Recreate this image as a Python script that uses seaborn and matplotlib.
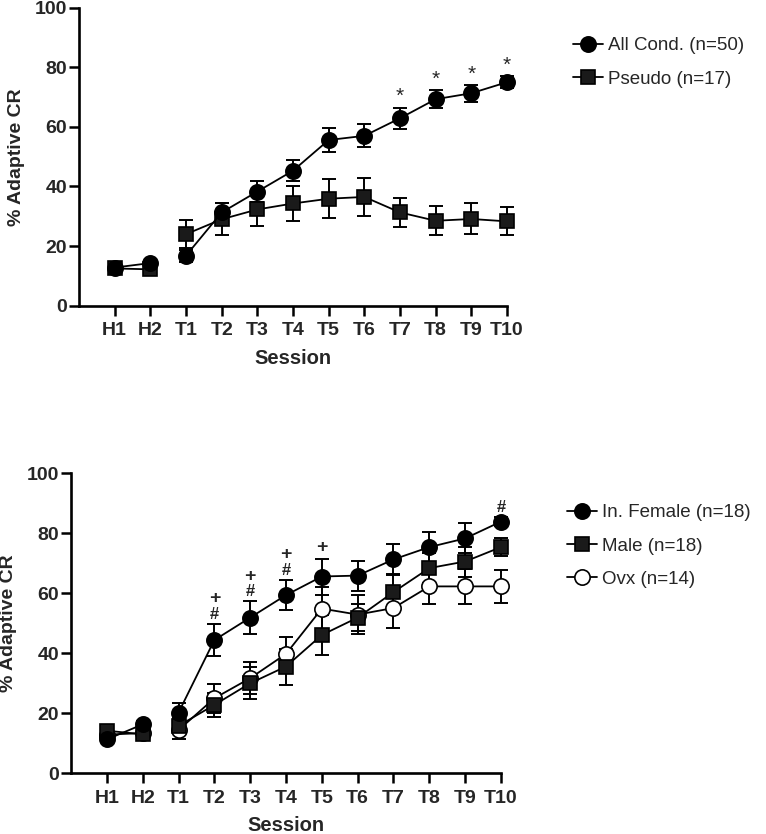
import numpy as np
import pandas as pd
import matplotlib
matplotlib.use("Agg")
import matplotlib.pyplot as plt
from matplotlib.lines import Line2D
import seaborn as sns

# sessions (x axis)
sessions = ['H1', 'H2', 'T1', 'T2', 'T3', 'T4', 'T5', 'T6', 'T7', 'T8', 'T9', 'T10']
phase = ['H', 'H', 'T', 'T', 'T', 'T', 'T', 'T', 'T', 'T', 'T', 'T']

# top panel: mean and SEM
all_cond = [12.8, 14.3, 16.8, 31.3, 38.3, 45.3, 55.6, 57.0, 62.9, 69.3, 71.3, 75.0]
all_sem = [0.8, 0.8, 2.0, 3.0, 3.5, 3.5, 4.1, 3.9, 3.6, 3.0, 2.8, 2.0]
pseudo = [12.5, 12.2, 24.0, 29.0, 32.3, 34.3, 35.9, 36.5, 31.3, 28.5, 29.1, 28.3]
pseudo_sem = [0.5, 0.5, 4.8, 5.3, 5.4, 5.8, 6.5, 6.3, 5.0, 4.8, 5.2, 4.7]

# bottom panel: mean and SEM
female = [11.2, 16.2, 20.1, 44.3, 51.8, 59.3, 65.5, 65.8, 71.2, 75.3, 78.2, 83.8]
female_sem = [1.0, 1.0, 3.3, 5.4, 5.4, 5.0, 6.0, 5.0, 5.2, 5.0, 5.0, 1.5]
male = [14.1, 12.9, 15.7, 22.7, 29.9, 35.5, 46.0, 51.8, 60.3, 68.3, 70.5, 75.3]
male_sem = [1.0, 0.8, 2.5, 3.9, 5.3, 6.0, 6.6, 4.5, 6.0, 5.0, 5.0, 3.0]
ovx = [12.8, 13.3, 14.3, 24.9, 31.6, 39.7, 54.8, 52.8, 55.0, 62.2, 62.2, 62.2]
ovx_sem = [1.0, 1.0, 3.0, 4.8, 5.3, 5.5, 7.2, 6.5, 6.5, 5.7, 5.7, 5.5]

# significance marks
stars_top = ['T7', 'T8', 'T9', 'T10']
hash_bot = ['T2', 'T3', 'T4', 'T10']
plus_bot = ['T2', 'T3', 'T4', 'T5']

sns.set_style('ticks')
plt.rcParams['font.family'] = ['Liberation Sans', 'DejaVu Sans']

fig = plt.figure(figsize=(7.66, 8.34), dpi=100)
ax1 = fig.add_axes([79 / 766, 1 - 305.7 / 834, (507 - 79) / 766, 298 / 834])
ax2 = fig.add_axes([71 / 766, 1 - 773 / 834, (501 - 71) / 766, 300 / 834])

pos = np.arange(len(sessions))


def draw(ax, means, sems, marker, face, ms):
    df = pd.DataFrame({'pos': pos, 'val': means, 'phase': phase})
    sns.lineplot(data=df, x='pos', y='val', units='phase', estimator=None,
                 color='black', lw=1.3, marker=marker, markersize=ms,
                 markerfacecolor=face, markeredgecolor='black',
                 markeredgewidth=1.2, clip_on=False, legend=False, ax=ax)
    ax.errorbar(pos, means, yerr=sems, fmt='none', ecolor='black',
                elinewidth=1.4, capsize=5, capthick=1.4, zorder=1.5,
                clip_on=False)


draw(ax1, pseudo, pseudo_sem, 's', '#1a1a1a', 9.5)
draw(ax1, all_cond, all_sem, 'o', 'black', 11)

draw(ax2, ovx, ovx_sem, 'o', 'white', 11)
draw(ax2, male, male_sem, 's', '#1a1a1a', 9.5)
draw(ax2, female, female_sem, 'o', 'black', 11)

for s in stars_top:
    i = sessions.index(s)
    ax1.annotate('*', (i, all_cond[i] + all_sem[i]), xytext=(0, 1),
                 textcoords='offset points', ha='center', va='bottom',
                 fontsize=15)
for s in hash_bot:
    i = sessions.index(s)
    ax2.annotate('#', (i, female[i] + female_sem[i]), xytext=(0, 1.5),
                 textcoords='offset points', ha='center', va='bottom',
                 fontsize=12, fontweight='bold')
for s in plus_bot:
    i = sessions.index(s)
    off = 12 if s in hash_bot else 2
    ax2.annotate('+', (i, female[i] + female_sem[i]), xytext=(0, off),
                 textcoords='offset points', ha='center', va='bottom',
                 fontsize=14, fontweight='bold')

for ax in (ax1, ax2):
    ax.set_xlim(-1, 11)
    ax.set_ylim(0, 100)
    ax.set_xticks(pos)
    ax.set_xticklabels(sessions)
    ax.set_yticks([0, 20, 40, 60, 80, 100])
    ax.set_xlabel('Session', fontsize=14.5, fontweight='bold', labelpad=7)
    ax.set_ylabel('% Adaptive CR', fontsize=14, fontweight='bold', labelpad=7)
    for lab in ax.get_xticklabels() + ax.get_yticklabels():
        lab.set_fontweight('bold')
        lab.set_fontsize(14)
    ax.tick_params(axis='both', length=7, width=1.8, color='black')
    ax.tick_params(axis='x', pad=5)
    ax.tick_params(axis='y', pad=1.5)
    sns.despine(ax=ax)
    for sp in ('left', 'bottom'):
        ax.spines[sp].set_linewidth(1.9)
        ax.spines[sp].set_color('black')


def handle(marker, face, ms):
    return Line2D([], [], color='black', lw=1.3, marker=marker, markersize=ms,
                  markerfacecolor=face, markeredgecolor='black',
                  markeredgewidth=1.2)


leg_kw = dict(loc='upper left', frameon=False, fontsize=13.5, handlelength=1.6,
              handletextpad=0.27, labelspacing=0.87, borderpad=0,
              borderaxespad=0)
fig.legend([handle('o', 'black', 11), handle('s', '#1a1a1a', 9.5)],
           ['All Cond. (n=50)', 'Pseudo (n=17)'],
           bbox_to_anchor=(573 / 766, 1 - 37 / 834), **leg_kw)
fig.legend([handle('o', 'black', 11), handle('s', '#1a1a1a', 9.5),
            handle('o', 'white', 11)],
           ['In. Female (n=18)', 'Male (n=18)', 'Ovx (n=14)'],
           bbox_to_anchor=(567 / 766, 1 - 504 / 834), **leg_kw)

fig.savefig('out.png', dpi=100)
